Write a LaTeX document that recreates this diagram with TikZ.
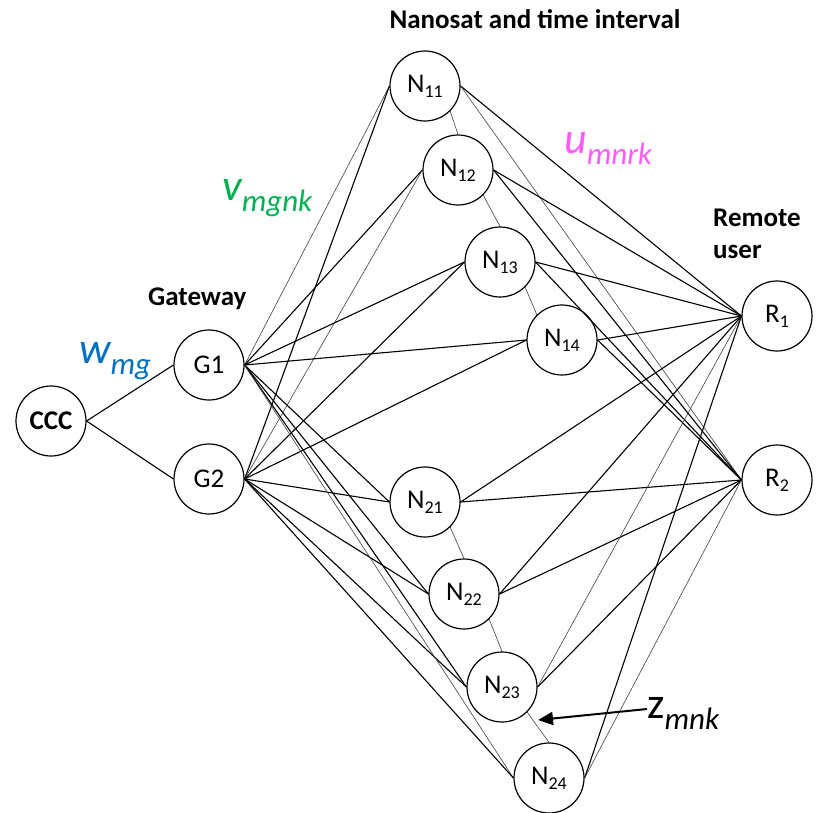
\documentclass[tikz,border=0pt]{standalone}
\usepackage{fontspec}
\setmainfont{Carlito}
\usetikzlibrary{arrows.meta}
\definecolor{wblue}{RGB}{0,112,192}
\definecolor{vgreen}{RGB}{0,176,80}
\definecolor{upink}{RGB}{255,92,255}
% node label with a lowered index
\newcommand\nsub[2]{#1\raisebox{-5pt}{\fontsize{18}{18}\selectfont #2}}
% large variable name with a lowered italic index
\newcommand\bigvar[2]{{\fontsize{44}{44}\selectfont #1}\raisebox{-11pt}{\fontsize{31}{31}\selectfont\itshape #2}}
\begin{document}
\begin{tikzpicture}[x=1pt,y=-1pt,
  sat/.style={circle, draw, line width=1.2pt, minimum size=70pt, inner sep=0pt,
              font=\fontsize{27}{27}\selectfont},
  link/.style={line width=1.1pt},
  faint/.style={line width=0.6pt, black!75},
  chain/.style={line width=0.6pt, black!75},
  heading/.style={font=\fontsize{27}{27}\selectfont\bfseries, inner sep=0pt}]
\useasboundingbox (0,0) rectangle (817,812);

% nodes
\node[sat, font=\fontsize{27}{27}\selectfont\bfseries] (C) at (51,421) {CCC};
\node[sat] (G1) at (209,365) {G1};
\node[sat] (G2) at (209,479) {G2};
\node[sat] (N11) at (425,86) {\nsub{N}{11}};
\node[sat] (N12) at (458,170) {\nsub{N}{12}};
\node[sat] (N13) at (500,262) {\nsub{N}{13}};
\node[sat] (N14) at (562,340) {\nsub{N}{14}};
\node[sat] (N21) at (425,502) {\nsub{N}{21}};
\node[sat] (N22) at (464,594) {\nsub{N}{22}};
\node[sat] (N23) at (502,687) {\nsub{N}{23}};
\node[sat] (N24) at (549,778) {\nsub{N}{24}};
\node[sat] (R1) at (777,316) {\nsub{R}{1}};
\node[sat] (R2) at (777,480) {\nsub{R}{2}};

% control centre to gateways
\draw[link] (C.east) -- (G1.west);
\draw[link] (C.east) -- (G2.west);

% gateways to nanosats
\draw[faint] (G1.east) -- (N11.west);
\draw[link] (G2.east) -- (N11.west);
\draw[link] (G1.east) -- (N12.west);
\draw[faint] (G2.east) -- (N12.west);
\foreach \n in {N13,N14,N21,N22,N23} {
  \draw[link] (G1.east) -- (\n.west);
  \draw[link] (G2.east) -- (\n.west);
}
\draw[faint] (G1.east) -- (N24.west);
\draw[link] (G2.east) -- (N24.west);

% nanosats to remote users
\draw[link] (N11.east) -- (R1.west);
\draw[faint] (N11.east) -- (R2.west);
\foreach \n in {N12,N13,N14,N21,N22} {
  \draw[link] (\n.east) -- (R1.west);
  \draw[link] (\n.east) -- (R2.west);
}
\draw[faint] (N23.east) -- (R1.west);
\draw[link] (N23.east) -- (R2.west);
\draw[link] (N24.east) -- (R1.west);
\draw[faint] (N24.east) -- (R2.west);

% consecutive time intervals of each nanosat
\draw[chain] (N11.south east) -- (N12.north);
\draw[chain] (N12.south east) -- (N13.north);
\draw[chain] (N13.south east) -- (N14.north west);
\draw[chain] (N21.south east) -- (N22.north);
\draw[chain] (N22.south east) -- (N23.north);
\draw[chain] (N23.south east) -- (N24.north);

% headings
\node[heading, anchor=base] (hN) at (535,28) {Nanosat and time interval};
\node[heading, anchor=base west] (hG) at (148,305) {Gateway};
\node[heading, anchor=base west, align=left] (hR) at (713,258) {Remote\\[5pt]user};

% variable labels
\node[anchor=base west, inner sep=0pt, text=wblue] (lw) at (79,363) {\bigvar{\itshape w}{mg}};
\node[anchor=base west, inner sep=0pt, text=vgreen] (lv) at (222,200) {\bigvar{\itshape v}{mgnk}};
\node[anchor=base west, inner sep=0pt, text=upink] (lu) at (564,153) {\bigvar{\itshape u}{mnrk}};
\node[anchor=base west, inner sep=0pt] (lz) at (647,718) {\bigvar{z}{mnk}};
\coordinate (zt) at (538,720);
\draw[line width=2pt, -{Triangle[length=15pt,width=13pt]}] (lz.west |- 0,709) -- (zt);
\end{tikzpicture}
\end{document}
